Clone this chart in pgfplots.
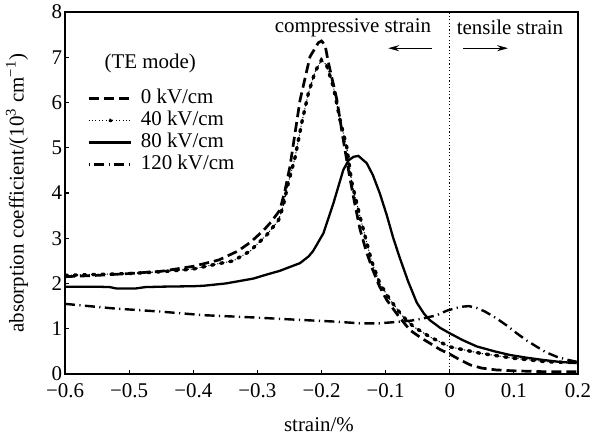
\documentclass[border=0pt]{standalone}
\usepackage{fontspec}
\setmainfont{Liberation Serif}
\usepackage{pgfplots}
\pgfplotsset{compat=1.18}
\usetikzlibrary{arrows.meta}
\begin{document}
\begin{tikzpicture}[font=\fontsize{10.5}{12.6}\selectfont]
\begin{axis}[
  name=ax,
  scale only axis, width=256.5bp, height=181bp,
  xmin=-0.6, xmax=0.2, ymin=0, ymax=8,
  xtick={-0.6,-0.5,-0.4,-0.3,-0.2,-0.1,0,0.1,0.2},
  xticklabels={−0.6,−0.5,−0.4,−0.3,−0.2,−0.1,0,0.1,0.2},
  ytick={0,1,2,3,4,5,6,7,8},
  yticklabels={0,1,2,3,4,5,6,7,8},
  tick pos=left, tick align=inside, major tick length=2bp,
  axis line style={line width=0.6bp},
  every tick/.style={black, line width=0.6bp},
  xticklabel style={yshift=-1.5bp},
  yticklabel style={xshift=2bp},
  xlabel={strain/\%},
  ylabel={absorption coefficient/(10\textsuperscript{3} cm\textsuperscript{−1})},
  xlabel style={at={(axis description cs:0.495,-0.14)}, anchor=center},
  ylabel style={at={(axis description cs:-0.0936,0.5)}, anchor=center},
  legend cell align=left,
  legend style={draw=none, fill=none, inner sep=0pt, at={(axis cs:-0.566,6.34)}, anchor=north west,
    row sep=0pt, column sep=4bp,
    nodes={inner sep=0.5bp, text height=7.5bp, text depth=2.5bp}},
]
% 0 kV/cm
\addplot[black, line width=1.35bp, dash pattern=on 5bp off 2.5bp,
  legend image code/.code={\draw[black, line width=1.35bp, dash pattern=on 5bp off 2.5bp] (0bp,0bp) -- (21bp,0bp);}] coordinates {
(-0.600,2.15) (-0.55,2.18) (-0.50,2.22) (-0.45,2.27) (-0.40,2.38) (-0.36,2.52) (-0.33,2.72)
(-0.31,2.92) (-0.29,3.18) (-0.278,3.37) (-0.265,3.62) (-0.257,4.05) (-0.249,4.6) (-0.2335,6.05)
(-0.218,7.01) (-0.205,7.32) (-0.200,7.36) (-0.1945,7.27) (-0.189,6.87) (-0.176,6.06) (-0.166,5.17)
(-0.158,4.51) (-0.15,3.9) (-0.14,3.2) (-0.13,2.7) (-0.12,2.3) (-0.11,1.95) (-0.0985,1.64)
(-0.08,1.28) (-0.062,0.97) (-0.045,0.80) (-0.031,0.68) (-0.015,0.54) (0,0.44) (0.015,0.32)
(0.032,0.2) (0.05,0.13) (0.073,0.09) (0.1,0.07) (0.125,0.06) (0.15,0.05) (0.2,0.05)
};
\addlegendentry{0 kV/cm}
% 40 kV/cm thin dotted line
\addplot[black, line width=0.5bp, dash pattern=on 0.5bp off 1bp,
  legend image code/.code={\draw[black,line width=0.5bp,dash pattern=on 0.5bp off 1.2bp] (0bp,0bp) -- (21bp,0bp); \fill[black] (11bp,0bp) circle (0.95bp);}] table {
-0.600 2.18
-0.55 2.20
-0.50 2.22
-0.45 2.26
-0.40 2.32
-0.36 2.44
-0.3375 2.50
-0.311 2.72
-0.285 3.08
-0.267 3.40
-0.26 3.70
-0.252 4.21
-0.241 4.80
-0.231 5.54
-0.2205 6.20
-0.21 6.68
-0.2 6.94
-0.192 6.82
-0.1815 6.35
-0.171 5.61
-0.1607 5.02
-0.153 4.25
-0.14 3.48
-0.122 2.50
-0.109 2.00
-0.093 1.64
-0.075 1.30
-0.057 1.05
-0.031 0.82
0.0 0.60
0.047 0.46
0.099 0.35
0.151 0.27
0.198 0.25
};
\addlegendentry{40 kV/cm}
% 40 kV/cm big dots
\addplot[black, line width=1.7bp, line cap=round, dash pattern=on 1.2bp off 3.4bp, forget plot] table {
-0.600 2.18
-0.55 2.20
-0.50 2.22
-0.45 2.26
-0.40 2.32
-0.36 2.44
-0.3375 2.50
-0.311 2.72
-0.285 3.08
-0.267 3.40
-0.26 3.70
-0.252 4.21
-0.241 4.80
-0.231 5.54
-0.2205 6.20
-0.21 6.68
-0.2 6.94
-0.192 6.82
-0.1815 6.35
-0.171 5.61
-0.1607 5.02
-0.153 4.25
-0.14 3.48
-0.122 2.50
-0.109 2.00
-0.093 1.64
-0.075 1.30
-0.057 1.05
-0.031 0.82
0.0 0.60
0.047 0.46
0.099 0.35
0.151 0.27
0.198 0.25
};
% 80 kV/cm
\addplot[black, line width=1.15bp, solid,
  legend image code/.code={\draw[black, line width=1.15bp] (0bp,0bp) -- (21bp,0bp);}] coordinates {
(-0.6,1.93) (-0.55,1.93) (-0.53,1.92) (-0.52,1.89) (-0.49,1.89) (-0.475,1.92) (-0.45,1.93)
(-0.40,1.94) (-0.384,1.95) (-0.35,2.0) (-0.3375,2.03) (-0.306,2.11) (-0.285,2.2) (-0.265,2.28)
(-0.254,2.34) (-0.2335,2.45) (-0.22,2.6) (-0.213,2.72) (-0.197,3.11) (-0.1815,3.77) (-0.166,4.51)
(-0.158,4.72) (-0.150,4.80) (-0.1425,4.82) (-0.1295,4.66) (-0.12,4.4) (-0.109,3.99) (-0.098,3.5)
(-0.088,3.0) (-0.0775,2.55) (-0.065,2.05) (-0.0515,1.58) (-0.04,1.33) (-0.031,1.19) (-0.015,1.02)
(0,0.90) (0.02,0.75) (0.042,0.61) (0.07,0.50) (0.094,0.42) (0.12,0.36) (0.146,0.31) (0.17,0.27) (0.198,0.24)
};
\addlegendentry{80 kV/cm}
% 120 kV/cm
\addplot[black, line width=1.2bp, dash pattern=on 5bp off 2.2bp on 0.6bp off 2.2bp,
  legend image code/.code={\draw[black, line width=1.2bp, dash pattern=on 0.6bp off 2.2bp on 5bp off 2.2bp] (0bp,0bp) -- (21bp,0bp);}] coordinates {
(-0.6,1.55) (-0.525,1.45) (-0.452,1.38) (-0.384,1.30) (-0.306,1.25) (-0.24,1.2) (-0.1815,1.16)
(-0.14,1.12) (-0.11,1.12) (-0.083,1.15) (-0.06,1.18) (-0.041,1.23) (-0.02,1.3) (-0.0045,1.40)
(0.01,1.46) (0.021,1.49) (0.03,1.5) (0.042,1.46) (0.055,1.38) (0.073,1.23) (0.09,1.06)
(0.1045,0.90) (0.12,0.74) (0.136,0.60) (0.15,0.48) (0.167,0.38) (0.185,0.31) (0.198,0.27)
};
\addlegendentry{120 kV/cm}
% vertical dotted divider
\addplot[black, line width=0.6bp, dash pattern=on 0.6bp off 1.1bp, forget plot] coordinates {(0,0) (0,8)};
\node at (axis cs:-0.467,6.87) {(TE mode)};
\node at (axis cs:-0.151,7.65) {compressive strain};
\node at (axis cs:0.094,7.65) {tensile strain};
\draw[line width=0.6bp, -{Stealth[length=5.5bp,width=3bp]}] (axis cs:-0.028,7.2) -- (axis cs:-0.096,7.2);
\draw[line width=0.6bp, -{Stealth[length=5.5bp,width=3bp]}] (axis cs:0.021,7.2) -- (axis cs:0.091,7.2);
\end{axis}
\pgfresetboundingbox
\path ([xshift=-32.5bp,yshift=-30.5bp]ax.south west) rectangle ([xshift=12bp,yshift=6bp]ax.north east);
\end{tikzpicture}
\end{document}
